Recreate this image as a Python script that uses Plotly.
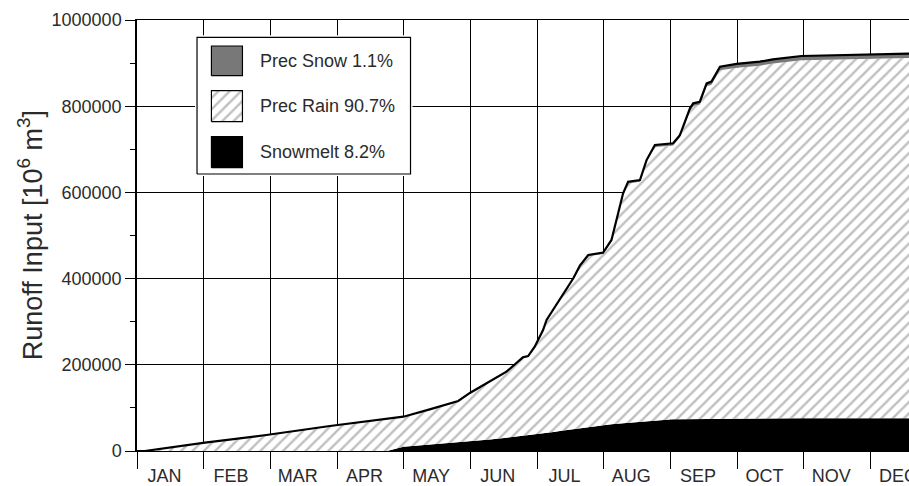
import plotly.graph_objects as go

# ---- data ----
day = [0, 3.5, 31, 59, 88, 110.7, 114, 121.5, 133.5, 146.5, 152, 161, 168.5, 176, 178.4,
       181.4, 185.2, 186.8, 190, 193.6, 199, 202, 205.8, 212.6, 216.4, 221.7, 224, 229.4,
       232.4, 236.2, 244.5, 247.6, 252.2, 253.7, 256.7, 259.8, 262, 265.9, 273.5, 284,
       290, 303, 320, 340, 352, 365]
snowmelt = [0, 0, 0, 0, 0, 0, 0, 9800, 14500, 19500, 21600, 26700, 31000, 35300, 36700,
            37500, 40600, 41700, 44100, 46700, 50700, 52900, 55700, 60560, 62200, 64500, 65500, 67900,
            69200, 70900, 73700, 73900, 74200, 74300, 74600, 74800, 75000, 75200, 75800, 75900,
            76000, 76000, 76000, 76000, 76000, 76000]
prec_rain = [0, 0, 19040, 36600, 57270, 70990, 73260, 68800, 80900, 94850, 111900, 132100, 150800, 179700, 181250,
             202000, 237490, 259650, 283160, 308460, 347000, 374010, 395900, 396570, 423900, 529730, 555420, 556750,
             601500, 634600, 635070, 653600, 714800, 726230, 729300, 771200, 774650, 808500, 813200, 818100,
             823300, 830800, 833000, 834450, 835900, 835900]
prec_snow = [0, 0, 260, 500, 730, 910, 940, 1000, 1300, 1650, 1800, 2000, 2200, 2400, 2450,
             2500, 2610, 2650, 2740, 2840, 3000, 3090, 3200, 3370, 3500, 3770, 3880, 4150,
             4300, 4500, 5230, 5500, 6000, 6170, 6500, 7000, 7350, 8000, 9000, 9300,
             9500, 9700, 10000, 10050, 10100, 10100]

months = ["JAN", "FEB", "MAR", "APR", "MAY", "JUN", "JUL", "AUG", "SEP", "OCT", "NOV", "DEC"]
y_ticks = [0, 200000, 400000, 600000, 800000, 1000000]
y_ticktext = ["0", "200000", "400000", "600000", "800000", "1000000"]
legend_labels = ["Prec Snow 1.1%", "Prec Rain 90.7%", "Snowmelt 8.2%"]

FONT = "Liberation Sans, Arial, Helvetica, sans-serif"
TXT = "#2b2b2b"
month_len = 365 / 12
boundaries = [i * month_len for i in range(12)]
label_pos = [b + 12.5 for b in boundaries]

hatch = dict(shape="/", fgcolor="#808080", bgcolor="white", size=8, solidity=0.3)

fig = go.Figure()
fig.add_trace(go.Scatter(x=day, y=snowmelt, stackgroup="one", mode="lines",
                         line=dict(width=0, color="black"), fillcolor="black",
                         showlegend=False, hoverinfo="skip"))
fig.add_trace(go.Scatter(x=day, y=prec_rain, stackgroup="one", mode="lines",
                         line=dict(width=0, color="#555"), fillcolor="white",
                         fillpattern=hatch, showlegend=False, hoverinfo="skip"))
fig.add_trace(go.Scatter(x=day, y=prec_snow, stackgroup="one", mode="lines",
                         line=dict(width=2.2, color="black"), fillcolor="#787878",
                         showlegend=False, hoverinfo="skip"))

# ---- custom legend (own small subplot, units = px) ----
W, H = 213.4, 136.7
fig.add_trace(go.Scatter(x=[0, W, W, 0, 0], y=[0, 0, H, H, 0], xaxis="x2", yaxis="y2",
                         mode="lines", fill="toself", fillcolor="white",
                         line=dict(color="black", width=1.2), showlegend=False, hoverinfo="skip"))
sw_x0, sw_x1 = 14.4, 45.4
swatches = [(98.3, 128.0, "#787878", None), (52.3, 83.3, "white", hatch), (6.3, 37.3, "black", None)]
for (y0, y1, col, pat) in swatches:
    kw = dict(fillpattern=pat) if pat else {}
    fig.add_trace(go.Scatter(x=[sw_x0, sw_x1, sw_x1, sw_x0, sw_x0], y=[y0, y0, y1, y1, y0],
                             xaxis="x2", yaxis="y2", mode="lines", fill="toself",
                             fillcolor=col, line=dict(color="black", width=1.2),
                             showlegend=False, hoverinfo="skip", **kw))
for lab, (y0, y1, _, _) in zip(legend_labels, swatches):
    fig.add_annotation(x=61, y=(y0 + y1) / 2, xref="x2", yref="y2", text=lab,
                       showarrow=False, xanchor="left", yanchor="middle",
                       font=dict(family=FONT, size=18, color=TXT))

fig.add_annotation(x=-0.139, y=0.5, xref="paper", yref="paper",
                   text="Runoff Input [10<sup>6</sup> m<sup>3</sup>]", textangle=-90,
                   showarrow=False, xanchor="center", yanchor="middle",
                   font=dict(family=FONT, size=27, color=TXT))

fig.update_layout(
    width=909, height=486,
    margin=dict(l=137.3, r=0, t=20, b=35, autoexpand=False),
    paper_bgcolor="white", plot_bgcolor="white",
    showlegend=False,
    xaxis=dict(range=[0, 352.1], tickmode="array", tickvals=label_pos, ticktext=months,
               ticks="outside", ticklen=8, tickcolor="rgba(0,0,0,0)",
               ticklabeloverflow="allow", automargin=False,
               showgrid=False, zeroline=False,
               showline=True, mirror=True, linecolor="black", linewidth=1.3,
               tickfont=dict(family=FONT, size=18, color=TXT),
               minor=dict(tickmode="array", tickvals=boundaries, ticks="outside", ticklen=17,
                          tickcolor="black", tickwidth=1.3, showgrid=True,
                          gridcolor="black", gridwidth=1.2),
               fixedrange=True),
    yaxis=dict(range=[0, 1000000], tickmode="array", tickvals=y_ticks, ticktext=y_ticktext,
               ticks="outside", ticklen=10, tickcolor="black", tickwidth=1.3,
               automargin=False,
               showgrid=True, gridcolor="black", gridwidth=1.2,
               zeroline=True, zerolinecolor="black", zerolinewidth=1.3,
               showline=True, linecolor="black", linewidth=1.5,
               tickfont=dict(family=FONT, size=18, color=TXT),
               minor=dict(dtick=100000, ticks="outside", ticklen=5, tickcolor="black",
                          tickwidth=1.3, showgrid=False),
               fixedrange=True),
    xaxis2=dict(domain=[0.07516, 0.35688], range=[-2, W + 2], visible=False,
                anchor="y2", fixedrange=True),
    yaxis2=dict(domain=[0.63805, 0.96450], range=[-2, H + 2], visible=False,
                anchor="x2", fixedrange=True),
)

fig.write_html("out.html", config={"displayModeBar": False},
               post_script="document.body.style.margin='0';document.body.style.overflow='hidden';")
